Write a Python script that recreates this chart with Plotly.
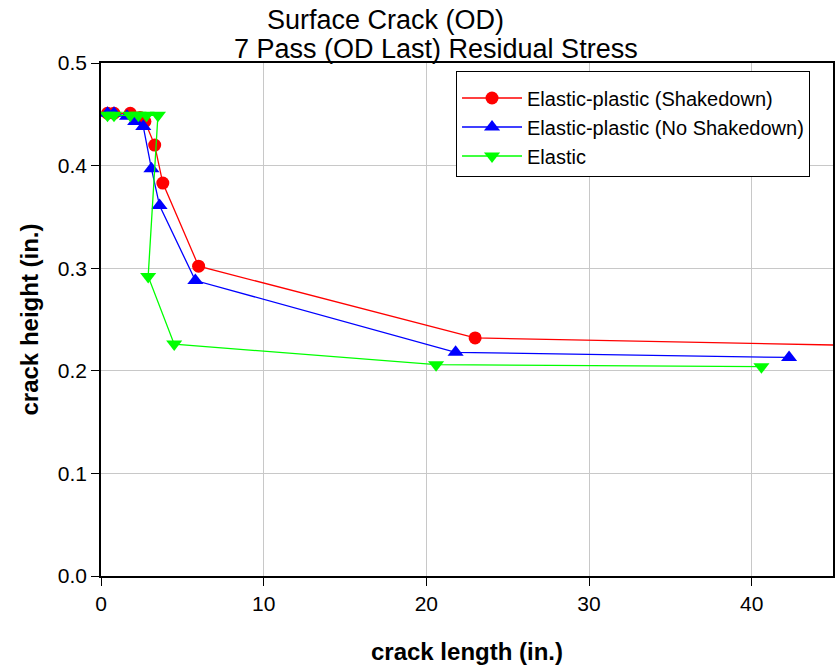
import plotly.graph_objects as go

# crack length (in.) and crack height (in.) for each analysis case
shakedown_len = [0.4, 0.8, 1.8, 2.4, 2.7, 3.3, 3.8, 6.0, 23.0, 55.0]
shakedown_hgt = [0.451, 0.451, 0.451, 0.447, 0.443, 0.420, 0.383, 0.302, 0.232, 0.222]

no_shakedown_len = [0.4, 0.8, 1.6, 2.1, 2.6, 3.1, 3.6, 5.8, 21.8, 42.3]
no_shakedown_hgt = [0.451, 0.451, 0.448, 0.443, 0.438, 0.397, 0.361, 0.288, 0.218, 0.213]

elastic_len = [0.4, 0.8, 1.8, 2.3, 2.8, 3.5, 2.9, 4.5, 20.6, 40.6]
elastic_hgt = [0.449, 0.449, 0.449, 0.449, 0.449, 0.449, 0.292, 0.226, 0.206, 0.204]

x_ticks = [0, 10, 20, 30, 40]
y_ticks = [0.0, 0.1, 0.2, 0.3, 0.4, 0.5]

font = "Liberation Sans, Arial, sans-serif"

# plot-area geometry in pixels (used to place title lines and legend)
PL, PR, PT, PB = 101, 835, 63, 576
PW, PH = PR - PL, PB - PT


def px_x(px):
    return (px - PL) / PW


def px_y(py):
    return (PB - py) / PH


fig = go.Figure()
fig.add_trace(go.Scatter(
    x=shakedown_len, y=shakedown_hgt, mode="lines+markers",
    name="Elastic-plastic (Shakedown)",
    line=dict(color="#ff0000", width=1.3),
    marker=dict(symbol="circle", size=13, color="#ff0000"),
    cliponaxis=True,
))
fig.add_trace(go.Scatter(
    x=no_shakedown_len, y=no_shakedown_hgt, mode="lines+markers",
    name="Elastic-plastic (No Shakedown)",
    line=dict(color="#0000ff", width=1.3),
    marker=dict(symbol="triangle-up", size=14, color="#0000ff"),
    cliponaxis=False,
))
fig.add_trace(go.Scatter(
    x=elastic_len, y=elastic_hgt, mode="lines+markers",
    name="Elastic",
    line=dict(color="#00ff00", width=1.3),
    marker=dict(symbol="triangle-down", size=14, color="#00ff00"),
    cliponaxis=False,
))

# two-line title, second line offset to the right
fig.add_annotation(text="Surface Crack (OD)", xref="paper", yref="paper",
                   x=px_x(386), y=px_y(20), xanchor="center", yanchor="middle",
                   showarrow=False, font=dict(family=font, size=27, color="black"))
fig.add_annotation(text="7 Pass (OD Last) Residual Stress", xref="paper", yref="paper",
                   x=px_x(437), y=px_y(49), xanchor="center", yanchor="middle",
                   showarrow=False, font=dict(family=font, size=27, color="black"))

axis_common = dict(
    showgrid=True, gridcolor="#c8c8c8", gridwidth=1,
    showline=True, linecolor="black", linewidth=1.5, mirror=True,
    ticks="outside", ticklen=8, tickcolor="black",
    tickfont=dict(family=font, size=21, color="black"),
    zeroline=False,
)

fig.update_xaxes(
    range=[0, 45], tickvals=x_ticks, ticktext=[str(v) for v in x_ticks],
    title=dict(text="<b>crack length (in.)</b>", font=dict(family=font, size=24, color="black"),
               standoff=29),
    **axis_common,
)
fig.update_yaxes(
    range=[0, 0.5], tickvals=y_ticks, ticktext=[f"{v:.1f}" for v in y_ticks],
    title=dict(text="<b>crack height (in.)</b>", font=dict(family=font, size=24, color="black"),
               standoff=12),
    **axis_common,
)

fig.update_layout(
    width=839, height=667,
    margin=dict(l=101, r=4, t=63, b=91),
    plot_bgcolor="white", paper_bgcolor="white",
    font=dict(family=font, color="black"),
    showlegend=True,
    legend=dict(
        x=px_x(457), y=px_y(71), xanchor="left", yanchor="top",
        bgcolor="white", bordercolor="black", borderwidth=1,
        font=dict(family=font, size=20, color="black"),
        itemwidth=60, tracegroupgap=0,
        title=dict(text=" ", font=dict(family=font, size=5)),
    ),
)

fig.write_html("out.html")
